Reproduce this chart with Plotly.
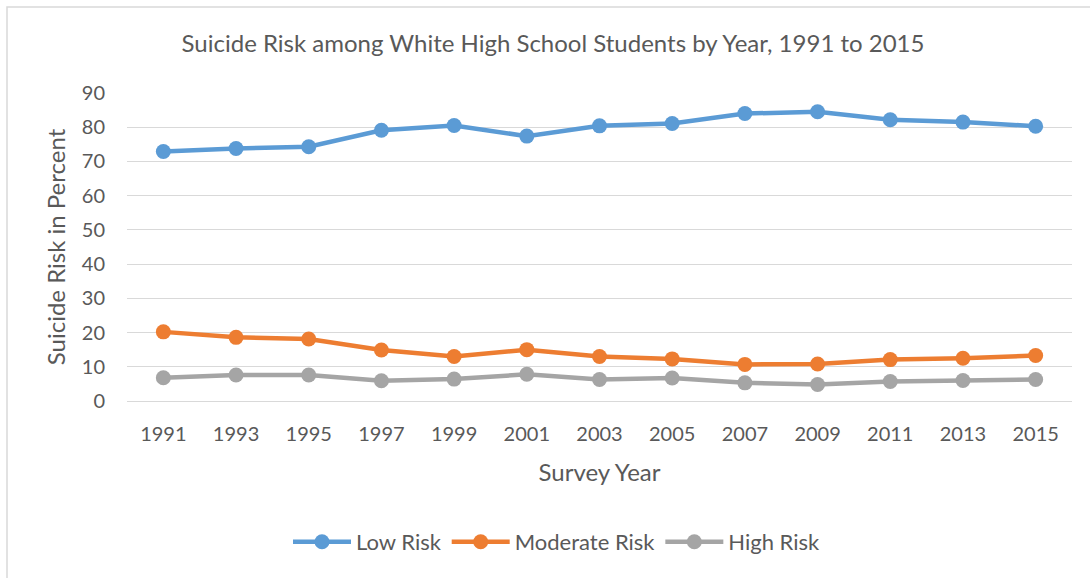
import plotly.graph_objects as go

years = ["1991", "1993", "1995", "1997", "1999", "2001", "2003",
         "2005", "2007", "2009", "2011", "2013", "2015"]
low_risk = [72.9, 73.8, 74.3, 79.1, 80.5, 77.4, 80.4, 81.1, 84.0, 84.5, 82.2, 81.5, 80.3]
moderate_risk = [20.2, 18.6, 18.1, 14.9, 13.0, 15.0, 13.0, 12.3, 10.7, 10.8, 12.1, 12.5, 13.3]
high_risk = [6.8, 7.6, 7.6, 5.9, 6.4, 7.8, 6.3, 6.7, 5.3, 4.8, 5.7, 6.0, 6.3]
y_ticks = [0, 10, 20, 30, 40, 50, 60, 70, 80, 90]

series = [
    ("Low Risk", low_risk, "#5b9bd5"),
    ("Moderate Risk", moderate_risk, "#ed7d31"),
    ("High Risk", high_risk, "#a5a5a5"),
]

FONT = "Lato, 'Open Sans', sans-serif"
TEXT = "#595959"

fig = go.Figure()
for name, vals, color in series:
    fig.add_trace(go.Scatter(
        x=years, y=vals, name=name, mode="lines+markers",
        line=dict(color=color, width=4.5),
        marker=dict(color=color, size=15),
    ))

W, H = 1090, 578
L, R, T, B = 127, 18, 93, 177
pw, ph = W - L - R, H - T - B

# chart frame (left and top edges sit inside the page)
fig.add_shape(type="rect", xref="paper", yref="paper",
              x0=(7 - L) / pw, x1=(1100 - L) / pw,
              y0=(H - B - 590) / ph, y1=(H - B - 7) / ph,
              line=dict(color="#d9d9d9", width=1.5), fillcolor="rgba(0,0,0,0)",
              layer="below")

fig.update_layout(
    width=W, height=H,
    margin=dict(l=L, r=R, t=T, b=B),
    paper_bgcolor="white", plot_bgcolor="white",
    font=dict(family=FONT, color=TEXT, size=20),
    title=dict(text="Suicide Risk among White High School Students by Year, 1991 to 2015",
               x=553 / W, xanchor="center", y=1 - 44 / H, yanchor="middle",
               font=dict(size=24, color=TEXT, family=FONT)),
    showlegend=True,
    legend=dict(orientation="h", x=557 / W, xanchor="center",
                xref="container", yref="container",
                y=1 - 542 / H, yanchor="middle",
                font=dict(size=22, color=TEXT, family=FONT),
                itemwidth=58, tracegroupgap=0),
    xaxis=dict(
        type="category", range=[-0.5, len(years) - 0.5],
        showgrid=False, showline=False, zeroline=False, ticks="",
        tickfont=dict(size=20, color=TEXT), ticklabelstandoff=19,
        title=dict(text="Survey Year", font=dict(size=24, color=TEXT), standoff=20),
    ),
    yaxis=dict(
        range=[0, 90], tickvals=y_ticks, showgrid=True, gridcolor="#d9d9d9",
        gridwidth=1.3, zeroline=True, zerolinecolor="#d9d9d9", zerolinewidth=1.3,
        showline=False, ticks="", tickfont=dict(size=20, color=TEXT),
        ticklabelstandoff=21,
        title=dict(text="Suicide Risk in Percent", font=dict(size=24, color=TEXT), standoff=9),
    ),
)

fig.write_html("out.html")
